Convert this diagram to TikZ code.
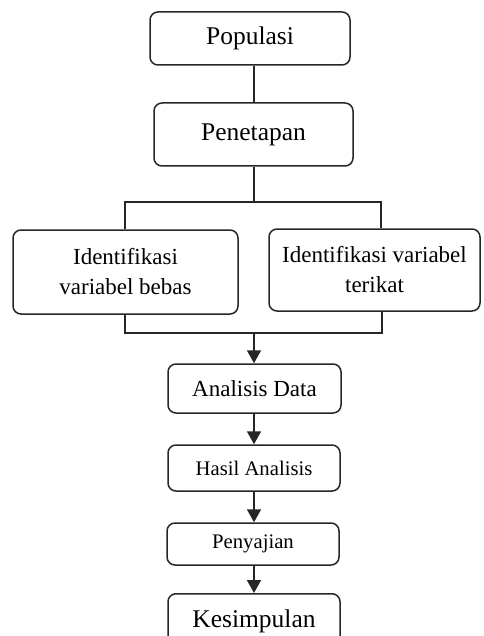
\documentclass[tikz,border=0pt]{standalone}
\usepackage{fontspec}
\setmainfont{Liberation Serif}
\usetikzlibrary{arrows.meta}
\tikzset{
  box/.style={draw=black!85, line width=1.5pt, rounded corners=8pt, inner sep=0pt, align=center},
  big/.style={font=\fontsize{25.5}{28}\selectfont},
  mid/.style={font=\fontsize{23}{30}\selectfont},
  small/.style={font=\fontsize{20.7}{24}\selectfont},
  link/.style={line width=1.8pt, draw=black!85},
  arr/.style={link, -{Triangle[length=13pt,width=14pt]}}
}
\begin{document}
\begin{tikzpicture}[x=1pt,y=-1pt]
\clip (0,0) rectangle (483,636);
\useasboundingbox (0,0) rectangle (483,636);
\node[box,big,minimum width=200pt,minimum height=53pt] (pop) at (250,38.5) {Populasi};
\node[box,big,minimum width=199pt,minimum height=63pt] (pen) at (253.5,134.5) {Penetapan};
\node[box,mid,minimum width=225pt,minimum height=84pt] (lb) at (125.5,272) {Identifikasi\\variabel bebas};
\node[box,mid,minimum width=211pt,minimum height=82pt] (rb) at (374.5,270) {Identifikasi variabel\\terikat};
\node[box,mid,minimum width=173pt,minimum height=49pt] (ad) at (254.5,388.5) {Analisis Data};
\node[box,small,minimum width=172pt,minimum height=46pt] (ha) at (254,468) {Hasil Analisis};
\node[box,small,minimum width=172pt,minimum height=42pt] (py) at (253,544) {Penyajian};
\node[box,big,minimum width=172pt,minimum height=56pt,anchor=north] (ks) at (254,593) {Kesimpulan};
\coordinate (btop) at (254,202);
\coordinate (bl) at (125,202);
\coordinate (br) at (381,202);
\coordinate (dl) at (125,333);
\coordinate (dr) at (382,333);
\coordinate (bmid) at (254,333);
\draw[link] (pop.south -| btop) -- (pen.north -| btop);
\draw[link] (pen.south -| btop) -- (btop);
\draw[link] (lb.north -| bl) -- (bl) -- (br) -- (rb.north -| br);
\draw[link] (lb.south -| dl) -- (dl) -- (dr) -- (rb.south -| dr);
\draw[arr] (bmid) -- (ad.north -| bmid);
\draw[arr] (ad.south -| bmid) -- (ha.north -| bmid);
\draw[arr] (ha.south -| bmid) -- (py.north -| bmid);
\draw[arr] (py.south -| bmid) -- (ks.north -| bmid);
\end{tikzpicture}
\end{document}
